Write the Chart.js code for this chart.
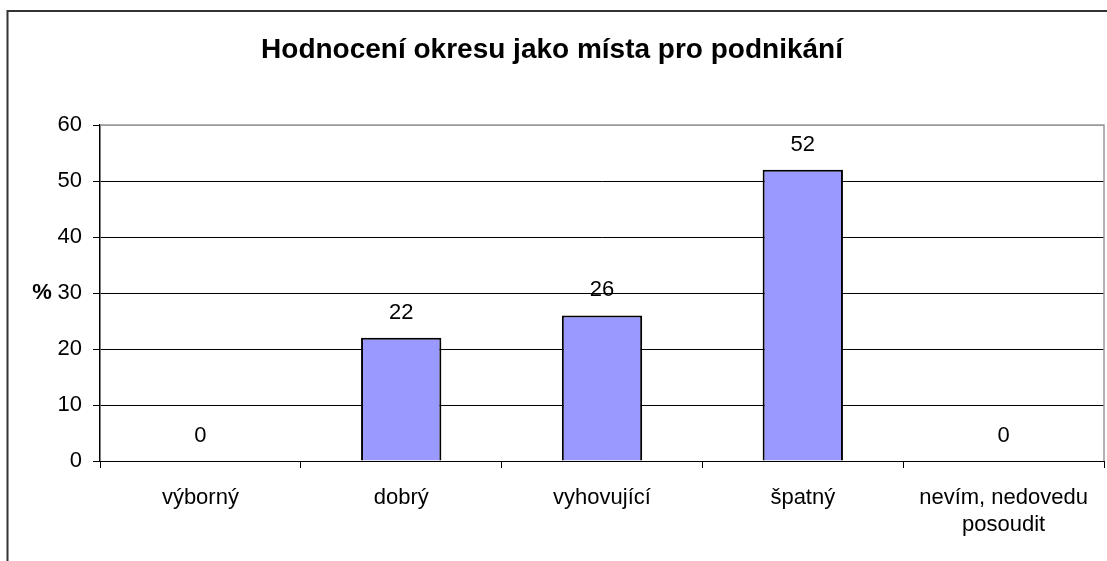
<!DOCTYPE html>
<html>
<head>
<meta charset="utf-8">
<script src="https://cdn.jsdelivr.net/npm/chart.js@4"></script>
<style>
  html, body { margin: 0; padding: 0; background: #fff; }
  #wrap { width: 1107px; height: 561px; }
</style>
</head>
<body>
<div id="wrap"><canvas id="chart" width="1107" height="561"></canvas></div>
<script>
// === Datos ===
const categories = ["výborný", "dobrý", "vyhovující", "špatný", ["nevím, nedovedu", "posoudit"]];
const values = [0, 22, 26, 52, 0];
const yMin = 0;
const yMax = 60;
const yStep = 10;
const chartTitle = "Hodnocení okresu jako místa pro podnikání";
const yLabel = "%";

const FONT = "'Liberation Sans', Arial, sans-serif";

// marco exterior + borde gris del área de gráfico
const framePlugin = {
  id: "frame",
  afterDraw(chart) {
    const c = chart.ctx;
    const a = chart.chartArea;
    c.save();
    c.strokeStyle = "#999";
    c.lineWidth = 1.5;
    c.beginPath();
    c.moveTo(a.left, a.top);
    c.lineTo(a.right, a.top);
    c.lineTo(a.right, a.bottom);
    c.stroke();

    c.strokeStyle = "#333";
    c.lineWidth = 2;
    c.beginPath();
    c.moveTo(7.5, 561);
    c.lineTo(7.5, 11);
    c.lineTo(1107, 11);
    c.stroke();

    // etiqueta "%" horizontal
    const y = chart.scales.y.getPixelForValue(30);
    c.fillStyle = "#000";
    c.font = "bold 22px " + FONT;
    c.textAlign = "center";
    c.textBaseline = "middle";
    c.fillText(yLabel, 42, y);

    // valores sobre las barras
    c.font = "22px " + FONT;
    chart.getDatasetMeta(0).data.forEach((bar, i) => {
      c.fillText(String(values[i]), bar.x, bar.y - 25);
    });
    c.restore();
  }
};

new Chart(document.getElementById("chart"), {
  type: "bar",
  data: {
    labels: categories,
    datasets: [{
      data: values,
      backgroundColor: "#9999FF",
      borderColor: "#000",
      borderWidth: 2,
      barPercentage: 0.4,
      categoryPercentage: 1
    }]
  },
  options: {
    responsive: false,
    animation: false,
    layout: { padding: { left: 0, right: 3, top: 0, bottom: 0 } },
    plugins: {
      legend: { display: false },
      tooltip: { enabled: false },
      title: {
        display: true,
        text: chartTitle,
        color: "#000",
        font: { family: FONT, size: 28, weight: "bold" },
        padding: { top: 33, bottom: 58.4 }
      }
    },
    scales: {
      x: {
        offset: true,
        grid: {
          offset: true,
          drawOnChartArea: false,
          drawTicks: true,
          tickLength: 7,
          tickColor: "#000",
          lineWidth: 1
        },
        border: { display: true, color: "#000", width: 1 },
        ticks: {
          color: "#000",
          font: { family: FONT, size: 22 },
          padding: 17,
          maxRotation: 0,
          autoSkip: false
        },
        afterFit(scale) { scale.height = 100; }
      },
      y: {
        min: yMin,
        max: yMax,
        grid: {
          color: ctx => (ctx.tick && ctx.tick.value === yMax) ? "#999" : "#000",
          tickColor: "#000",
          tickLength: 7,
          lineWidth: 1
        },
        border: { display: true, color: "#000", width: 1.5 },
        ticks: {
          stepSize: yStep,
          color: "#000",
          font: { family: FONT, size: 22 },
          padding: 11
        },
        afterFit(scale) { scale.width = 100; }
      }
    }
  },
  plugins: [framePlugin]
});
</script>
</body>
</html>
